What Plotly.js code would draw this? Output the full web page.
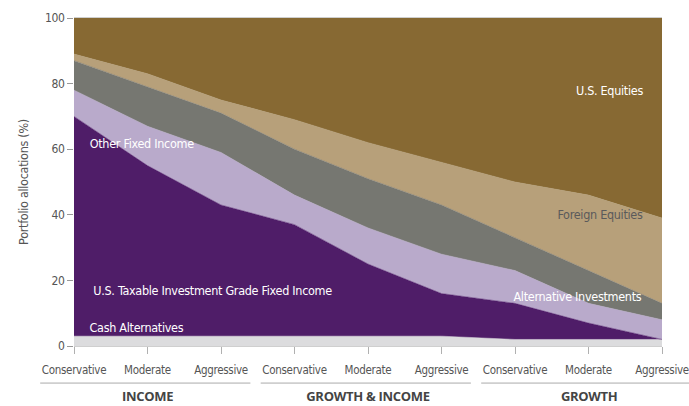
<!DOCTYPE html>
<html>
<head>
<meta charset="utf-8">
<script src="https://cdn.plot.ly/plotly-3.0.1.min.js"></script>
<style>
html,body{margin:0;padding:0;background:#fff;}
#chart{width:689px;height:406px;}
#chart .main-svg text{letter-spacing:-0.3px;}
</style>
</head>
<body>
<div id="chart"></div>
<script>
// Portfolio profiles (x positions 0..8)
const profiles = ["Conservative","Moderate","Aggressive","Conservative","Moderate","Aggressive","Conservative","Moderate","Aggressive"];
const groups = ["INCOME","GROWTH & INCOME","GROWTH"];

// Allocations (%) per asset class, bottom to top
const cashAlternatives       = [3, 3, 3, 3, 3, 3, 2, 2, 2];
const usTaxableIGFixedIncome = [67, 52, 40, 34, 22, 13, 11, 5, 0];
const otherFixedIncome       = [8, 12, 16, 9, 11, 12, 10, 6, 6];
const alternativeInvestments = [9, 12, 12, 14, 15, 15, 10, 10, 5];
const foreignEquities        = [2, 4, 4, 9, 11, 13, 17, 23, 26];
const usEquities             = [11, 17, 25, 31, 38, 44, 50, 54, 61];

const yTicks = [0, 20, 40, 60, 80, 100];

const xIdx = profiles.map((_, i) => i);

const series = [
  {name: "Cash Alternatives", y: cashAlternatives, color: "#DCDCDE"},
  {name: "U.S. Taxable Investment Grade Fixed Income", y: usTaxableIGFixedIncome, color: "#4F1D68"},
  {name: "Other Fixed Income", y: otherFixedIncome, color: "#B9AACB"},
  {name: "Alternative Investments", y: alternativeInvestments, color: "#767771"},
  {name: "Foreign Equities", y: foreignEquities, color: "#B7A07A"},
  {name: "U.S. Equities", y: usEquities, color: "#876933"}
];

const traces = series.map(s => ({
  type: "scatter",
  mode: "lines",
  x: xIdx,
  y: s.y,
  name: s.name,
  stackgroup: "one",
  fillcolor: s.color,
  line: {color: s.color, width: 0.5},
  hoverinfo: "skip"
}));

const FONT = "'DejaVu Sans Condensed', 'Liberation Sans Narrow', 'Roboto', sans-serif";

// label positions (text placement)
const labels = [
  {text: "U.S. Equities", x: 7.8, y: 78, anchor: "right", color: "#ffffff"},
  {text: "Foreign Equities", x: 7.8, y: 40, anchor: "right", color: "#5a5a5a"},
  {text: "Alternative Investments", x: 7.8, y: 15, anchor: "right", color: "#ffffff"},
  {text: "Other Fixed Income", x: 0.145, y: 61.6, anchor: "left", color: "#ffffff"},
  {text: "U.S. Taxable Investment Grade Fixed Income", x: 0.145, y: 16.8, anchor: "left", color: "#ffffff"},
  {text: "Cash Alternatives", x: 0.145, y: 5.5, anchor: "left", color: "#ffffff"}
];

const annotations = labels.map(l => ({
  text: l.text, x: l.x, y: l.y, xref: "x", yref: "y",
  xanchor: l.anchor, yanchor: "middle", showarrow: false,
  font: {family: FONT, size: 12.5, color: l.color}
}));

groups.forEach((g, gi) => {
  annotations.push({
    text: "<b>" + g + "</b>", x: gi * 3 + 1, y: -0.182, xref: "x", yref: "paper",
    xanchor: "center", yanchor: "bottom", showarrow: false, borderpad: 0,
    font: {family: "'Open Sans', 'Noto Sans', sans-serif", size: 13, color: "#444444"}
  });
});

const span = profiles.length - 1;
const shapes = groups.map((g, gi) => ({
  type: "line", xref: "x domain", yref: "paper",
  x0: (gi * 3 - 0.46) / span, x1: (gi * 3 + 2.4) / span,
  y0: -0.113, y1: -0.113,
  line: {color: "#aaaaaa", width: 1}
}));

const layout = {
  width: 689, height: 406,
  margin: {l: 74, r: 27, t: 18, b: 60},
  paper_bgcolor: "#ffffff", plot_bgcolor: "#ffffff",
  showlegend: false,
  font: {family: FONT, color: "#555555"},
  xaxis: {
    range: [0, span], tickvals: xIdx, ticktext: profiles,
    ticks: "outside", ticklen: 7, tickcolor: "#b0b0b0", tickwidth: 1,
    showline: true, linecolor: "#cfcfcf", linewidth: 1, mirror: true,
    showgrid: false, zeroline: false,
    tickfont: {family: FONT, size: 11.5, color: "#555555"},
    ticklabelstandoff: 6,
    ticklabeloverflow: "allow",
    fixedrange: true
  },
  yaxis: {
    range: [0, 100], tickvals: yTicks,
    ticks: "outside", ticklen: 6, tickcolor: "#999999", tickwidth: 1,
    showline: false, showgrid: false, zeroline: false,
    tickfont: {family: FONT, size: 12, color: "#555555"},
    title: {text: "Portfolio allocations (%)", font: {family: FONT, size: 12.5, color: "#555555"}, standoff: 12},
    fixedrange: true
  },
  annotations: annotations,
  shapes: shapes
};

Plotly.newPlot("chart", traces, layout, {displayModeBar: false, staticPlot: true});
</script>
</body>
</html>
